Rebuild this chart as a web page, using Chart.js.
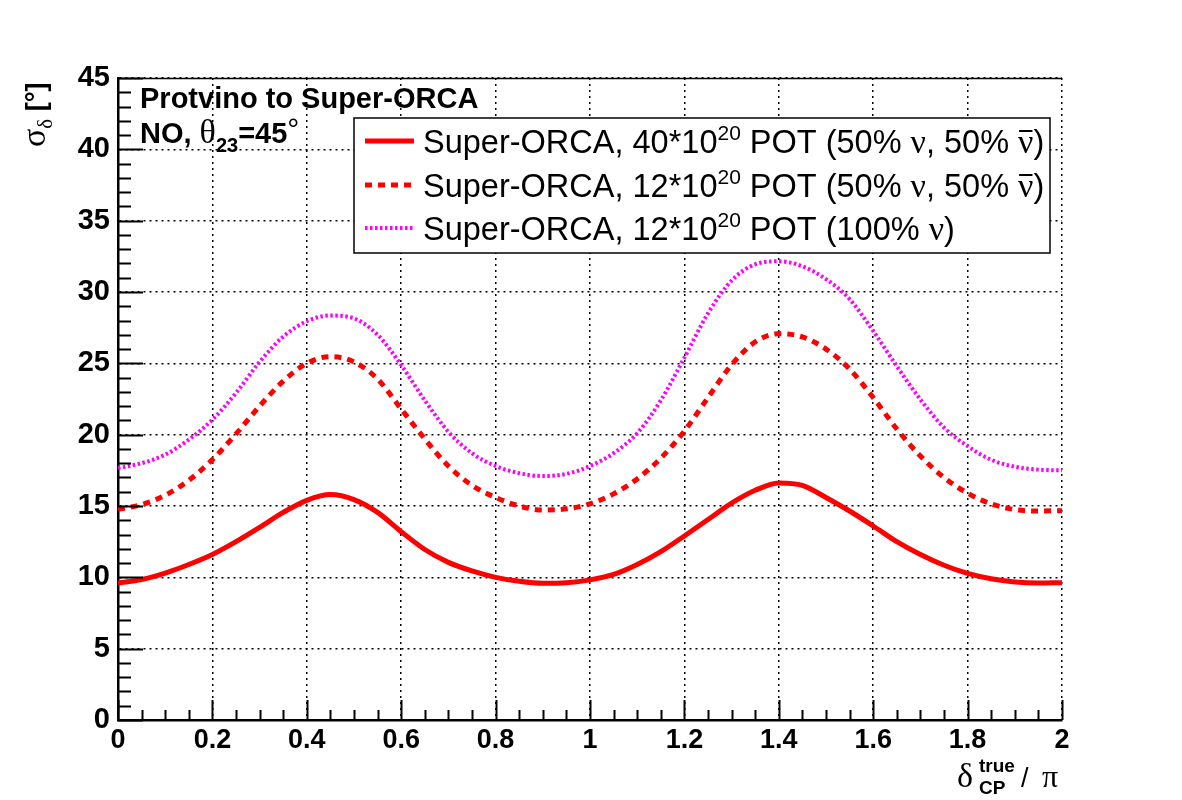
<!DOCTYPE html>
<html>
<head>
<meta charset="utf-8">
<script src="https://cdn.jsdelivr.net/npm/chart.js@4.4.1/dist/chart.umd.min.js"></script>
<style>
  html, body { margin: 0; padding: 0; background: #fff; }
  #wrap { width: 1182px; height: 800px; }
</style>
</head>
<body>
<div id="wrap"><canvas id="c" width="1182" height="800"></canvas></div>
<script>
// delta_CP / pi sampling
const deltaCP = [0, 0.05, 0.1, 0.15, 0.2, 0.25, 0.3, 0.35, 0.4, 0.45, 0.5, 0.55, 0.6, 0.65, 0.7, 0.75, 0.8, 0.85, 0.9, 0.95,
                 1, 1.05, 1.1, 1.15, 1.2, 1.25, 1.3, 1.35, 1.4, 1.45, 1.5, 1.55, 1.6, 1.65, 1.7, 1.75, 1.8, 1.85, 1.9, 1.95, 2];

// sigma_delta [deg]
const pot40Mixed = [9.6, 9.85, 10.3, 10.9, 11.6, 12.5, 13.5, 14.55, 15.4, 15.8, 15.45, 14.55, 13.2, 11.95, 11.05, 10.45, 10.0, 9.72, 9.58, 9.62,
                    9.82, 10.2, 10.9, 11.8, 12.9, 14.05, 15.2, 16.1, 16.62, 16.45, 15.6, 14.65, 13.6, 12.5, 11.6, 10.85, 10.28, 9.9, 9.68, 9.6, 9.62];
const pot12Mixed = [14.77, 15.1, 15.75, 16.8, 18.25, 20.05, 22.0, 23.75, 25.0, 25.47, 25.1, 23.9, 21.8, 19.7, 17.8, 16.45, 15.6, 15.0, 14.72, 14.8,
                    15.15, 15.85, 16.9, 18.35, 20.25, 22.6, 24.9, 26.5, 27.08, 26.85, 26.0, 24.6, 22.6, 20.4, 18.5, 17.0, 15.9, 15.15, 14.75, 14.65, 14.67];
const pot12Nu = [17.66, 18.0, 18.6, 19.65, 21.05, 22.92, 25.1, 26.87, 27.95, 28.35, 28.15, 27.0, 24.88, 22.4, 20.2, 18.7, 17.8, 17.3, 17.1, 17.25,
                 17.8, 18.7, 20.1, 22.4, 25.4, 28.5, 30.8, 31.94, 32.15, 31.8, 30.9, 29.5, 27.27, 24.8, 22.47, 20.5, 19.2, 18.24, 17.75, 17.55, 17.5];

const seriesLabels = ['40*10|20| POT (50% ν, 50% ν̄)', '12*10|20| POT (50% ν, 50% ν̄)', '12*10|20| POT (100% ν)'];

const SANS = "'Liberation Sans', Arial, sans-serif";
const SERIF = "'Liberation Serif', 'Times New Roman', serif";

const pts = ys => deltaCP.map((x, i) => ({ x, y: ys[i] }));

// draw a run of text pieces left to right
function rich(ctx, x, y, parts) {
  parts.forEach(p => {
    ctx.font = p.font;
    ctx.fillText(p.t, x, y + (p.dy || 0));
    const w = ctx.measureText(p.t).width;
    if (p.bar) {
      ctx.fillRect(x + 1, y + (p.dy || 0) - p.bar, w - 2, 2);
    }
    x += w;
  });
  return x;
}

function legendParts(str) {
  // "12*10|20| POT (50% ν, 50% ν̄)"
  const [a, sup, rest] = str.split('|');
  const parts = [
    { t: 'Super-ORCA, ' + a, font: `32.5px ${SANS}` },
    { t: sup, font: `21px ${SANS}`, dy: -13 },
  ];
  const re = /(ν̄|ν)/g;
  let last = 0, m;
  while ((m = re.exec(rest))) {
    if (m.index > last) parts.push({ t: rest.slice(last, m.index), font: `32.5px ${SANS}` });
    parts.push({ t: 'ν', font: `34px ${SERIF}`, bar: m[0] === 'ν̄' ? 23 : 0 });
    last = m.index + m[0].length;
  }
  if (last < rest.length) parts.push({ t: rest.slice(last), font: `32.5px ${SANS}` });
  return parts;
}

const overlay = {
  id: 'overlay',
  afterDraw(chart) {
    const { ctx, chartArea: a, scales: { x, y } } = chart;
    ctx.save();
    ctx.fillStyle = '#000';
    ctx.strokeStyle = '#000';

    // inner tick marks
    ctx.lineWidth = 2;
    ctx.beginPath();
    for (let v = 0; v <= 45; v += 1) {
      const py = Math.round(y.getPixelForValue(v)) + 0.5;
      const len = v % 5 === 0 ? 25 : 13;
      ctx.moveTo(a.left, py); ctx.lineTo(a.left + len, py);
    }
    for (let k = 0; k <= 40; k++) {
      const px = Math.round(x.getPixelForValue(k * 0.05)) + 0.5;
      const len = k % 4 === 0 ? 20 : 10;
      ctx.moveTo(px, a.bottom); ctx.lineTo(px, a.bottom - len);
    }
    ctx.stroke();
    // top frame line
    ctx.lineWidth = 1.5;
    ctx.beginPath();
    ctx.moveTo(a.left, a.top + 0.5); ctx.lineTo(a.right, a.top + 0.5);
    ctx.stroke();

    // header
    ctx.textBaseline = 'alphabetic';
    ctx.textAlign = 'left';
    rich(ctx, 140, 108, [{ t: 'Protvino to Super-ORCA', font: `bold 29px ${SANS}` }]);
    rich(ctx, 140, 143, [
      { t: 'NO, ', font: `bold 29px ${SANS}` },
      { t: 'θ', font: `34px ${SERIF}` },
      { t: '23', font: `bold 20px ${SANS}`, dy: 9 },
      { t: '=45', font: `bold 29px ${SANS}` },
      { t: '°', font: `30px ${SANS}`, dy: -4 },
    ]);

    // legend box
    const lx = 354, ly = 118, lw = 696, lh = 135;
    ctx.fillStyle = '#fff';
    ctx.fillRect(lx, ly, lw, lh);
    ctx.lineWidth = 1.5;
    ctx.strokeStyle = '#000';
    ctx.strokeRect(lx, ly, lw, lh);
    const rows = [141, 185, 228];
    chart.data.datasets.forEach((ds, i) => {
      ctx.save();
      ctx.strokeStyle = ds.borderColor;
      ctx.lineWidth = ds.borderWidth;
      ctx.setLineDash(ds.borderDash || []);
      ctx.beginPath();
      ctx.moveTo(365, rows[i]); ctx.lineTo(414, rows[i]);
      ctx.stroke();
      ctx.restore();
      ctx.fillStyle = '#000';
      rich(ctx, 423, rows[i] + 12, legendParts(seriesLabels[i]));
    });

    // y title (rotated)
    ctx.save();
    ctx.translate(45, 147);
    ctx.rotate(-Math.PI / 2);
    ctx.fillStyle = '#000';
    rich(ctx, 0, 0, [
      { t: 'σ', font: `34px ${SERIF}` },
      { t: 'δ', font: `21px ${SERIF}`, dy: 7 },
      { t: ' [°]', font: `bold 27px ${SANS}` },
    ]);
    ctx.restore();

    // x title
    ctx.fillStyle = '#000';
    rich(ctx, 957, 787, [{ t: 'δ', font: `34px ${SERIF}` }]);
    rich(ctx, 979, 772, [{ t: 'true', font: `bold 19px ${SANS}` }]);
    rich(ctx, 979, 794, [{ t: 'CP', font: `bold 19px ${SANS}` }]);
    rich(ctx, 1021, 787, [{ t: '/', font: `27px ${SANS}` }]);
    rich(ctx, 1042, 787, [{ t: 'π', font: `32px ${SERIF}` }]);

    ctx.restore();
  }
};

Chart.defaults.font.family = SANS;
Chart.defaults.color = '#000';

new Chart(document.getElementById('c'), {
  type: 'line',
  data: {
    datasets: [
      { data: pts(pot40Mixed), borderColor: '#ff0000', borderWidth: 5, borderDash: [] },
      { data: pts(pot12Mixed), borderColor: '#ff0000', borderWidth: 5, borderDash: [7, 6] },
      { data: pts(pot12Nu), borderColor: '#ff00ff', borderWidth: 4, borderDash: [2.5, 2.5] },
    ].map(d => ({ ...d, pointRadius: 0, fill: false, cubicInterpolationMode: 'monotone' }))
  },
  options: {
    responsive: false,
    devicePixelRatio: 1,
    animation: false,
    layout: { padding: { left: 0, top: 78, right: 120, bottom: 0 } },
    plugins: { legend: { display: false }, tooltip: { enabled: false } },
    scales: {
      x: {
        type: 'linear', min: 0, max: 2,
        afterFit: s => { s.height = 80; },
        ticks: { stepSize: 0.2, padding: 4, font: { size: 27, weight: 'bold' }, maxRotation: 0,
                 callback: v => String(+v.toFixed(1)) },
        grid: { color: '#000', lineWidth: 1.5, drawTicks: false },
        border: { display: true, color: '#000', width: 2.5, dash: [2, 4] }
      },
      y: {
        min: 0, max: 45,
        afterFit: s => { s.width = 118; },
        ticks: { stepSize: 5, padding: 8, font: { size: 29, weight: 'bold' } },
        grid: { color: '#000', lineWidth: 1.5, drawTicks: false },
        border: { display: true, color: '#000', width: 2.5, dash: [2, 4] }
      }
    }
  },
  plugins: [overlay]
});
</script>
</body>
</html>
